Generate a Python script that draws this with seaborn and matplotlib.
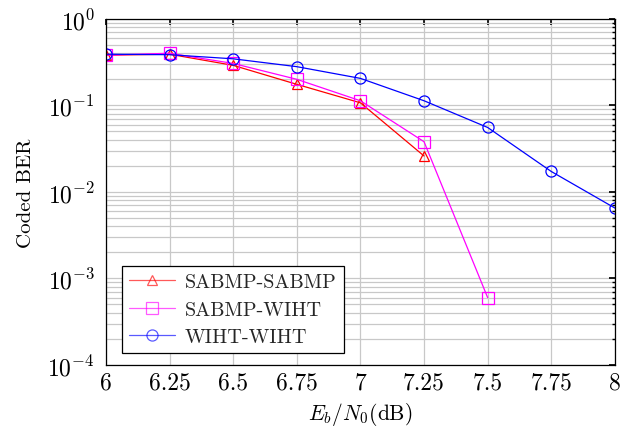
import matplotlib
matplotlib.use("Agg")
import matplotlib.pyplot as plt
import seaborn as sns
import pandas as pd
from matplotlib.ticker import LogLocator, FixedLocator

sns.set_theme(style="white")
plt.rcParams['font.family'] = ['cmr10', 'DejaVu Serif']
plt.rcParams['mathtext.fontset'] = 'cm'
plt.rcParams['axes.formatter.use_mathtext'] = True

snr_a = [6, 6.25, 6.5, 6.75, 7, 7.25]
ber_sabmp_sabmp = [0.38, 0.39, 0.29, 0.175, 0.107, 0.026]
snr_b = [6, 6.25, 6.5, 6.75, 7, 7.25, 7.5]
ber_sabmp_wiht = [0.38, 0.40, 0.305, 0.20, 0.113, 0.038, 0.0006]
snr_c = [6, 6.25, 6.5, 6.75, 7, 7.25, 7.5, 7.75, 8]
ber_wiht_wiht = [0.39, 0.385, 0.345, 0.28, 0.205, 0.113, 0.0555, 0.0172, 0.0065]
xticks = [6, 6.25, 6.5, 6.75, 7, 7.25, 7.5, 7.75, 8]
xticklabels = ["6", "6.25", "6.5", "6.75", "7", "7.25", "7.5", "7.75", "8"]

fig = plt.figure(figsize=(6.23, 4.31), dpi=100)
ax = fig.add_axes([0.170, 0.151, 0.817, 0.803])

series = [
    ("SABMP-SABMP", snr_a, ber_sabmp_sabmp, "#ff0000", "^"),
    ("SABMP-WIHT", snr_b, ber_sabmp_wiht, "#ff00ff", "s"),
    ("WIHT-WIHT", snr_c, ber_wiht_wiht, "#0000ff", "o"),
]
for name, x, y, c, m in series:
    df = pd.DataFrame({"x": x, "y": y})
    sns.lineplot(data=df, x="x", y="y", ax=ax, color=c, marker=m, markersize=8 if m != "^" else 7,
                 markerfacecolor="none", markeredgecolor=c, markeredgewidth=0.9,
                 linewidth=0.9, label=name)

ax.set_yscale("log")
ax.set_ylim(1e-4, 1)
ax.set_xlim(6, 8)
ax.xaxis.set_major_locator(FixedLocator(xticks))
ax.set_xticklabels(xticklabels)
ax.yaxis.set_major_locator(LogLocator(base=10, numticks=10))
ax.yaxis.set_minor_locator(LogLocator(base=10, subs=range(2, 10), numticks=20))
ax.grid(True, which="major", axis="both", color="#c8c8c8", linewidth=0.9)
ax.grid(True, which="minor", axis="y", color="#c8c8c8", linewidth=0.9)
ax.set_axisbelow(True)
for s in ax.spines.values():
    s.set_color("black")
    s.set_linewidth(0.9)
ax.tick_params(axis="both", which="both", direction="in", top=True, right=True, labelsize=17, colors="black")
ax.tick_params(axis="both", which="major", length=4)
ax.tick_params(axis="y", which="minor", length=2)
ax.tick_params(axis="x", which="major", pad=5)
ax.tick_params(axis="y", which="major", pad=8)
ax.set_xlabel("$E_b/N_0$(dB)", fontsize=15.5, color="black", labelpad=4)
ax.set_ylabel("Coded BER", fontsize=15, color="black", labelpad=9)

leg = ax.legend(loc="lower left", bbox_to_anchor=(0.031, 0.035), fontsize=14.5, frameon=True,
                fancybox=False, edgecolor="black", framealpha=1, handlelength=2.3,
                borderpad=0.35, labelspacing=0.45, handletextpad=0.5, borderaxespad=0)
leg.get_frame().set_linewidth(0.9)
for h in leg.get_lines():
    h.set_alpha(0.65)
fig.savefig("out.png", dpi=100)
